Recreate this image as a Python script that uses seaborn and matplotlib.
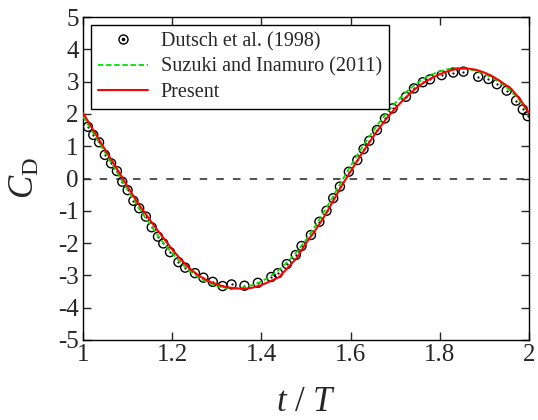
import numpy as np
import pandas as pd
import matplotlib
matplotlib.use("Agg")
import matplotlib.pyplot as plt
from matplotlib.lines import Line2D
from matplotlib.legend_handler import HandlerTuple
import seaborn as sns

# Dutsch et al. (1998) experiment (open circles)
t_dutsch = [1.011, 1.023, 1.036, 1.049, 1.063, 1.076, 1.088, 1.100, 1.113, 1.126,
            1.141, 1.154, 1.168, 1.180, 1.195, 1.214, 1.229, 1.251, 1.270, 1.291,
            1.313, 1.333, 1.362, 1.392, 1.422, 1.437, 1.457, 1.477, 1.490, 1.511,
            1.530, 1.546, 1.561, 1.576, 1.596, 1.615, 1.629, 1.642, 1.659, 1.677,
            1.694, 1.724, 1.742, 1.762, 1.778, 1.804, 1.830, 1.853, 1.886, 1.909,
            1.928, 1.950, 1.971, 1.986, 1.997]
cd_dutsch = [1.60, 1.35, 1.12, 0.73, 0.47, 0.23, -0.10, -0.36, -0.69, -0.92,
             -1.18, -1.51, -1.80, -2.01, -2.28, -2.59, -2.76, -2.93, -3.07, -3.20,
             -3.33, -3.28, -3.32, -3.23, -3.05, -2.93, -2.65, -2.37, -2.09, -1.75,
             -1.34, -1.00, -0.61, -0.25, 0.21, 0.57, 0.91, 1.17, 1.50, 1.86,
             2.17, 2.53, 2.79, 2.98, 3.07, 3.20, 3.28, 3.31, 3.15, 3.08,
             2.92, 2.72, 2.41, 2.14, 1.93]

# shared time samples for the two simulations
t_sim = [1.00, 1.02, 1.04, 1.06, 1.08, 1.10, 1.12, 1.14, 1.16, 1.18,
         1.20, 1.22, 1.24, 1.26, 1.28, 1.30, 1.32, 1.34, 1.36, 1.38,
         1.40, 1.42, 1.44, 1.46, 1.48, 1.50, 1.52, 1.54, 1.56, 1.58,
         1.60, 1.62, 1.64, 1.66, 1.68, 1.70, 1.72, 1.74, 1.76, 1.78,
         1.80, 1.82, 1.84, 1.86, 1.88, 1.90, 1.92, 1.94, 1.96, 1.98, 2.00]
# Suzuki and Inamuro (2011)
cd_suzuki = [1.92, 1.47, 1.02, 0.56, 0.10, -0.36, -0.80, -1.22, -1.62, -1.99,
             -2.32, -2.62, -2.87, -3.07, -3.22, -3.33, -3.39, -3.40, -3.37, -3.30,
             -3.19, -3.03, -2.82, -2.56, -2.26, -1.90, -1.49, -1.04, -0.57, -0.08,
             0.39, 0.84, 1.26, 1.66, 2.02, 2.34, 2.62, 2.86, 3.06, 3.21,
             3.32, 3.39, 3.42, 3.40, 3.34, 3.24, 3.10, 2.92, 2.70, 2.40, 2.00]
# Present
cd_present = [2.03, 1.57, 1.11, 0.66, 0.21, -0.25, -0.70, -1.09, -1.47, -1.84,
              -2.20, -2.52, -2.80, -3.01, -3.17, -3.28, -3.36, -3.40, -3.42, -3.38,
              -3.30, -3.18, -3.05, -2.75, -2.45, -2.00, -1.62, -1.20, -0.72, -0.22,
              0.22, 0.66, 1.08, 1.48, 1.85, 2.17, 2.46, 2.72, 2.93, 3.10,
              3.23, 3.33, 3.40, 3.41, 3.37, 3.28, 3.15, 2.97, 2.78, 2.45, 2.03]

x_ticks = [1.0, 1.2, 1.4, 1.6, 1.8, 2.0]
y_ticks = [-5, -4, -3, -2, -1, 0, 1, 2, 3, 4, 5]

sns.set_style("ticks")
plt.rcParams["font.family"] = ["Liberation Serif", "DejaVu Serif"]
plt.rcParams["mathtext.fontset"] = "custom"
plt.rcParams["mathtext.rm"] = "Liberation Serif"
plt.rcParams["mathtext.it"] = "Liberation Serif:italic"
plt.rcParams["axes.unicode_minus"] = False

df_exp = pd.DataFrame({"t": t_dutsch, "cd": cd_dutsch})
df_sim = pd.DataFrame({"t": t_sim, "suzuki": cd_suzuki, "present": cd_present})

fig = plt.figure(figsize=(5.38, 4.2), dpi=100)
ax = fig.add_axes([0.1543, 0.1905, 0.829, 0.769])

ax.axhline(0, color="#333333", lw=1.2, ls=(0, (4.5, 5.5)), zorder=1)
sns.scatterplot(data=df_exp, x="t", y="cd", ax=ax, marker="o", s=42,
                facecolor="none", edgecolor="black", linewidth=1.0, zorder=3)
sns.scatterplot(data=df_exp, x="t", y="cd", ax=ax, marker="o", s=2.5,
                color="black", linewidth=0, zorder=3)
sns.lineplot(data=df_sim, x="t", y="suzuki", ax=ax, color="#00e000", lw=1.3,
             zorder=4).lines[-1].set_dashes((3, 1.5))
sns.lineplot(data=df_sim, x="t", y="present", ax=ax, color="red", lw=1.5,
             zorder=5)

ax.set_xlim(1, 2)
ax.set_ylim(-5, 5)
ax.set_xticks(x_ticks)
ax.set_xticklabels(["%g" % v for v in x_ticks])
ax.set_yticks(y_ticks)
ax.tick_params(direction="in", length=5.5, width=1.0, top=True, right=True,
               labelsize=18, pad=3)
for s in ax.spines.values():
    s.set_linewidth(1.0)
    s.set_color("black")

ax.set_xlabel("$t$ / $T$", fontsize=25, labelpad=14)
ax.set_ylabel(r"$C_{\mathrm{D}}$", fontsize=25, labelpad=12)

h_circ = Line2D([], [], ls="none", marker="o", ms=6.5, mfc="none", mec="black", mew=1.0)
h_dot = Line2D([], [], ls="none", marker="o", ms=1.6, mfc="black", mec="black")
h_suz = Line2D([], [], color="#00e000", lw=1.3, dashes=(3, 1.5))
h_pre = Line2D([], [], color="red", lw=1.5)
leg = ax.legend([(h_circ, h_dot), h_suz, h_pre],
                ["Dutsch et al. (1998)", "Suzuki and Inamuro (2011)", "Present"],
                handler_map={tuple: HandlerTuple(ndivide=1)},
                loc="upper left", bbox_to_anchor=(0.018, 0.975), fontsize=14.5,
                frameon=True, fancybox=False, edgecolor="black", framealpha=1,
                handlelength=2.5, handletextpad=0.6, borderpad=0.35,
                labelspacing=0.3, borderaxespad=0)
leg.get_frame().set_linewidth(1.0)

fig.savefig("out.png", dpi=100)
